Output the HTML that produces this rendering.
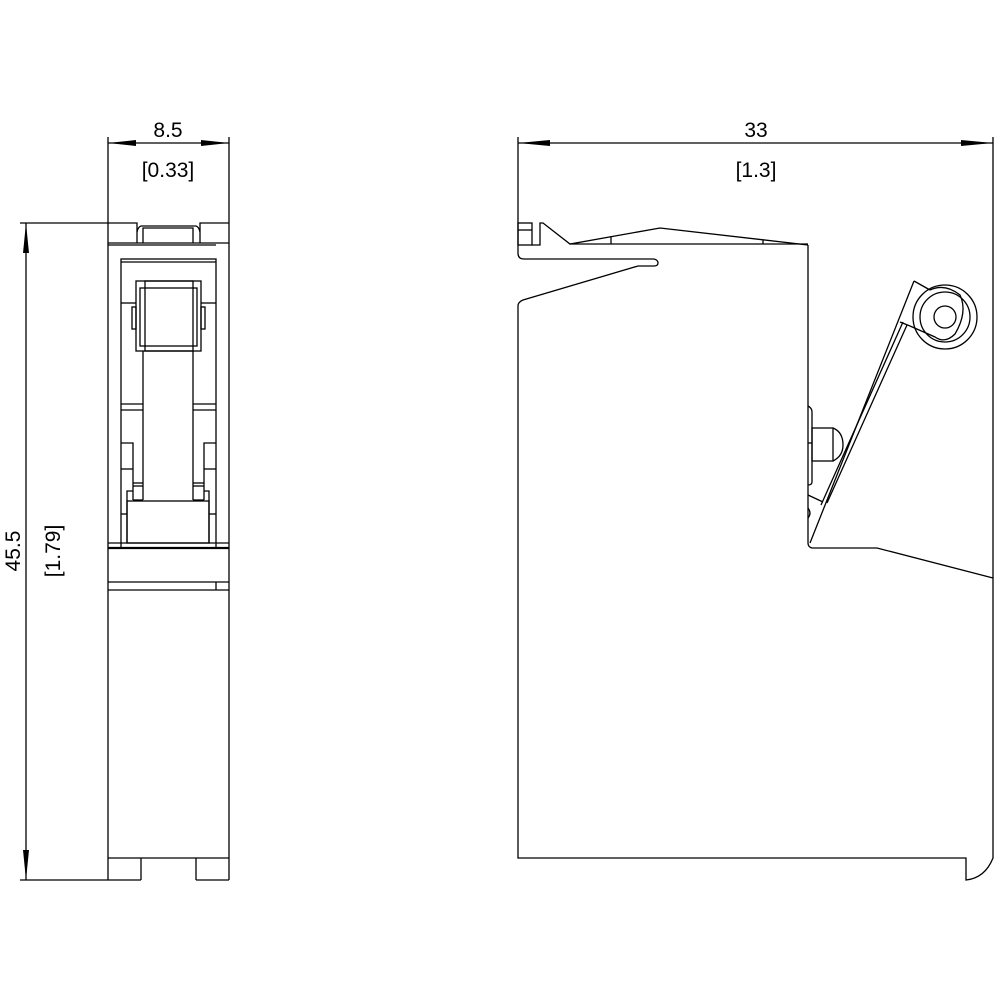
<!DOCTYPE html>
<html><head><style>
html,body{margin:0;padding:0;background:#fff}
svg{display:block}
text{font-family:"Liberation Sans",sans-serif;font-size:21px;fill:#000}
</style></head><body>
<svg width="1000" height="1000" viewBox="0 0 1000 1000" xmlns="http://www.w3.org/2000/svg">
<g stroke="#000" stroke-width="1.3" fill="none">
<line x1="108" y1="137" x2="108" y2="880"/>
<line x1="229" y1="137" x2="229" y2="880"/>
<line x1="108" y1="143" x2="229" y2="143"/>
<line x1="20" y1="223" x2="108" y2="223"/>
<line x1="20" y1="880" x2="108" y2="880"/>
<line x1="26" y1="223" x2="26" y2="880"/>
<polyline points="108,223 137,223 137,243"/>
<polyline points="229,223 200,223 200,243"/>
<path d="M137,232 Q138,227 141,226 L196,226 Q199,227 200,232"/>
<polyline points="143,243 143,228 193,228 193,243"/>
<line x1="108" y1="243" x2="229" y2="243"/>
<line x1="108" y1="245" x2="216" y2="245"/>
<rect x="121" y="259" width="95" height="289"/>
<line x1="121" y1="262" x2="216" y2="262"/>
<line x1="121" y1="303" x2="136" y2="303"/>
<line x1="201" y1="303" x2="216" y2="303"/>
<rect x="136" y="281" width="65" height="70"/>
<rect x="140" y="288" width="57" height="58"/>
<rect x="145" y="281" width="48" height="70"/>
<rect x="132" y="307" width="4" height="22"/>
<rect x="201" y="307" width="4" height="22"/>
<line x1="143" y1="351" x2="143" y2="500"/>
<line x1="193" y1="351" x2="193" y2="500"/>
<line x1="121" y1="404" x2="143" y2="404"/><line x1="121" y1="410" x2="143" y2="410"/>
<line x1="193" y1="404" x2="216" y2="404"/><line x1="193" y1="410" x2="216" y2="410"/>
<polyline points="121,443 133,443 133,500"/>
<polyline points="216,443 204,443 204,500"/>
<line x1="121" y1="469" x2="133" y2="469"/><line x1="204" y1="469" x2="216" y2="469"/>
<line x1="133" y1="483" x2="143" y2="483"/><line x1="133" y1="486" x2="143" y2="486"/>
<line x1="193" y1="483" x2="204" y2="483"/><line x1="193" y1="486" x2="204" y2="486"/>
<polyline points="127,543 127,491 133,491"/>
<polyline points="209,543 209,491 204,491"/>
<line x1="133" y1="500" x2="143" y2="500"/><line x1="193" y1="500" x2="204" y2="500"/>
<rect x="127" y="501" width="82" height="42"/>
<line x1="121" y1="514" x2="127" y2="514"/><line x1="209" y1="514" x2="216" y2="514"/>
<line x1="108" y1="543" x2="229" y2="543"/>
<line x1="108" y1="548" x2="229" y2="548" stroke-width="2.2"/>
<line x1="108" y1="582" x2="229" y2="582"/>
<line x1="108" y1="590" x2="229" y2="590"/>
<line x1="216" y1="582" x2="216" y2="590"/>
<line x1="108" y1="858" x2="229" y2="858"/>
<polyline points="141,880 141,858"/>
<polyline points="196,880 196,858"/>
<line x1="108" y1="880" x2="141" y2="880"/>
<line x1="196" y1="880" x2="229" y2="880"/>

<line x1="518" y1="137" x2="518" y2="253"/>
<line x1="993" y1="137" x2="993" y2="578"/>
<line x1="518" y1="143" x2="993" y2="143"/>
<rect x="518" y="223" width="14" height="22"/>
<line x1="518" y1="230" x2="532" y2="230"/>
<polyline points="532,245 540,245 540,223 543,223 570,244 660,228 808,245"/>
<line x1="570" y1="244" x2="808" y2="244"/>
<line x1="611" y1="236" x2="611" y2="244"/>
<line x1="763" y1="240" x2="763" y2="244"/>
<path d="M518,253 Q518,259 524,259 L654,259 Q658,260 658,263 Q658,266 654,266 L638,266 L523,300 Q518,302 518,306 L518,858 L966,858 L966,880 Q985,878 993,858 L993,578 L877,548 L812,548 Q808,547 808,543 L808,245"/>
<path d="M808,406 Q812,408 812,412 L812,482 Q812,485 808,485"/>
<rect x="812" y="428" width="21" height="33"/>
<path d="M833,428 Q843,432 843,445 Q843,456 833,461"/>
<line x1="808" y1="443" x2="812" y2="443"/>
<line x1="808" y1="495" x2="823" y2="502"/>
<path d="M808,508 Q812,513 808,518"/>
<line x1="914" y1="281" x2="810" y2="543"/>
<line x1="903" y1="322" x2="821" y2="505"/>
<line x1="907" y1="325" x2="827" y2="503"/>
<line x1="914" y1="281" x2="930" y2="290"/>
<line x1="900" y1="322" x2="910" y2="326"/>
<path d="M930,290 Q945,283 960,295 Q968,312 955,334 Q945,344 935,337 L910,326"/>
<circle cx="945" cy="317" r="11"/>
<circle cx="945" cy="317" r="25"/>
<circle cx="945" cy="317" r="32"/>
</g>
<g fill="#000" stroke="none">
<polygon points="108,143 136,140 136,146"/>
<polygon points="229,143 201,140 201,146"/>
<polygon points="26,223 23,253 29,253"/>
<polygon points="26,880 23,850 29,850"/>
<polygon points="518,143 550,140 550,146"/>
<polygon points="993,143 961,140 961,146"/>
</g>
<text x="168" y="137" text-anchor="middle">8.5</text>
<text x="168" y="177" text-anchor="middle">[0.33]</text>
<text x="756" y="137" text-anchor="middle">33</text>
<text x="756" y="177" text-anchor="middle">[1.3]</text>
<text transform="translate(20,551) rotate(-90)" text-anchor="middle">45.5</text>
<text transform="translate(60,551) rotate(-90)" text-anchor="middle">[1.79]</text>
</svg>
</body></html>
